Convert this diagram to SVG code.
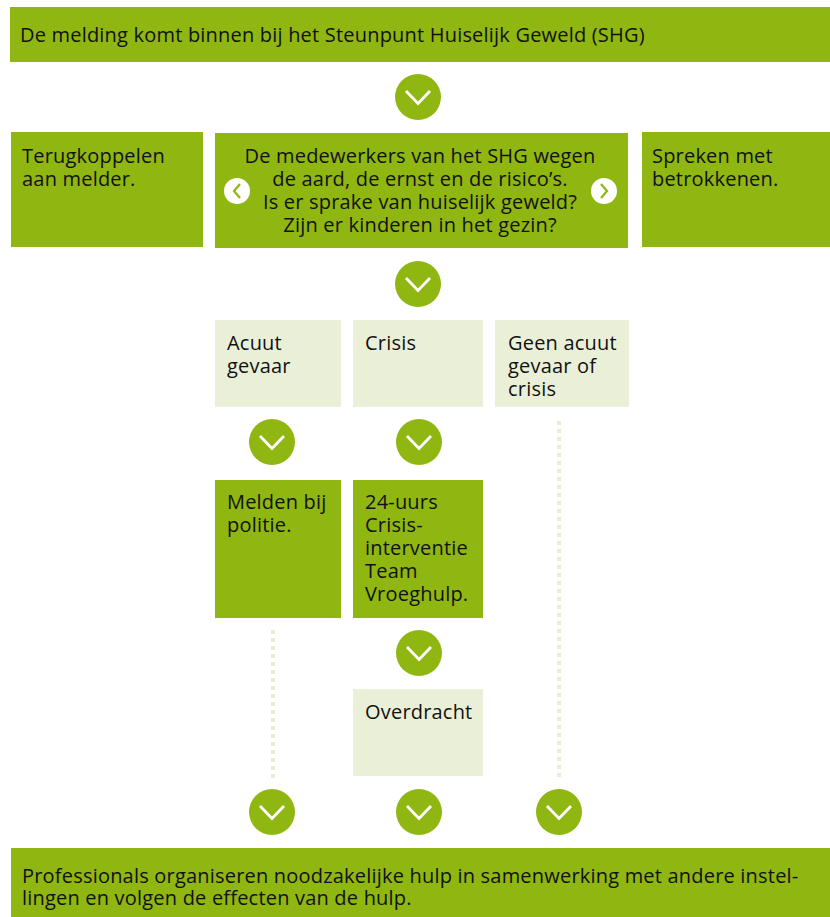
<svg xmlns="http://www.w3.org/2000/svg" width="830" height="917" viewBox="0 0 830 917">
<style>
.g{fill:#8fb611}
.l{fill:#eaf0d8}
.t{font-family:"Open Sans","Noto Sans",sans-serif;font-size:20px;letter-spacing:0.2px;fill:#111}
.c{text-anchor:middle}
.dot{stroke:#e8eed6;stroke-width:4;stroke-dasharray:4 4;fill:none}
.chev{fill:none;stroke:#fff;stroke-width:2.8}
.sch{fill:none;stroke:#8fb611;stroke-width:2.2}
</style>
<defs>
<g id="down"><circle r="23" fill="#8fb611"/><path class="chev" d="M-12,-6 L0,6.5 L12,-6"/></g>
</defs>
<rect width="830" height="917" fill="#fff"/>
<g id="n-melding"><rect class="g" x="10" y="7" width="820" height="55"/><text class="t" x="20" y="42">De melding komt binnen bij het Steunpunt Huiselijk Geweld (SHG)</text></g>
<g id="n-terug"><rect class="g" x="11" y="132" width="192" height="115"/><text class="t" x="22" y="163">Terugkoppelen</text><text class="t" x="22" y="186">aan melder.</text></g>
<g id="n-wegen"><rect class="g" x="215" y="133" width="413" height="115"/>
<text class="t c" x="420" y="163">De medewerkers van het SHG wegen</text>
<text class="t c" x="420" y="186">de aard, de ernst en de risico’s.</text>
<text class="t c" x="420" y="209">Is er sprake van huiselijk geweld?</text>
<text class="t c" x="420" y="232">Zijn er kinderen in het gezin?</text>
<circle cx="237" cy="191" r="13" fill="#fff"/><path class="sch" d="M240,184 L234,191 L240,198"/>
<circle cx="604" cy="191" r="13" fill="#fff"/><path class="sch" d="M601,184 L607,191 L601,198"/>
</g>
<g id="n-spreken"><rect class="g" x="642" y="132" width="188" height="115"/><text class="t" x="652" y="163">Spreken met</text><text class="t" x="652" y="186">betrokkenen.</text></g>
<g id="n-acuut"><rect class="l" x="215" y="320" width="126" height="87"/><text class="t" x="227" y="350">Acuut</text><text class="t" x="227" y="373">gevaar</text></g>
<g id="n-crisis"><rect class="l" x="353" y="320" width="130" height="87"/><text class="t" x="365" y="350">Crisis</text></g>
<g id="n-geen"><rect class="l" x="495" y="320" width="134" height="87"/><text class="t" x="508" y="350">Geen acuut</text><text class="t" x="508" y="373">gevaar of</text><text class="t" x="508" y="396">crisis</text></g>
<g id="n-politie"><rect class="g" x="215" y="480" width="126" height="138"/><text class="t" x="227" y="509">Melden bij</text><text class="t" x="227" y="532">politie.</text></g>
<g id="n-vroeghulp"><rect class="g" x="353" y="480" width="130" height="138"/><text class="t" x="365" y="509">24-uurs</text><text class="t" x="365" y="532">Crisis-</text><text class="t" x="365" y="555">interventie</text><text class="t" x="365" y="578">Team</text><text class="t" x="365" y="601">Vroeghulp.</text></g>
<g id="n-overdracht"><rect class="l" x="353" y="689" width="130" height="87"/><text class="t" x="365" y="719">Overdracht</text></g>
<g id="n-professionals"><rect class="g" x="11" y="848" width="819" height="69"/><text class="t" x="22" y="883">Professionals organiseren noodzakelijke hulp in samenwerking met andere instel-</text><text class="t" x="22" y="905">lingen en volgen de effecten van de hulp.</text></g>
<g id="connectors">
<path class="dot" d="M559,421 V778"/>
<path class="dot" d="M273,630 V778"/>
<use href="#down" x="418" y="97"/>
<use href="#down" x="418" y="284"/>
<use href="#down" x="272" y="442"/>
<use href="#down" x="419" y="442"/>
<use href="#down" x="419" y="653"/>
<use href="#down" x="272" y="812"/>
<use href="#down" x="419" y="812"/>
<use href="#down" x="559" y="812"/>
</g>
</svg>
